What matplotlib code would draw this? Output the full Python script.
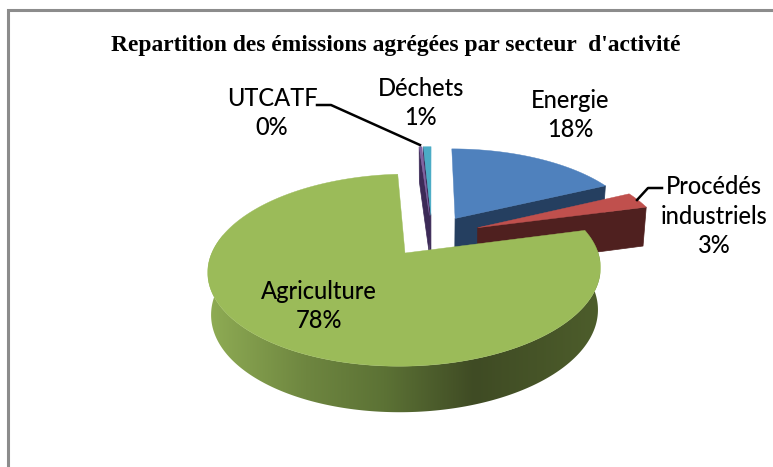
import numpy as np
import matplotlib
matplotlib.use('Agg')
import matplotlib.pyplot as plt
from matplotlib.colors import LinearSegmentedColormap
from matplotlib.patches import Polygon

# data
sectors = ['Energie', 'Procédés\nindustriels', 'Agriculture', 'UTCATF', 'Déchets']
shares = [17.9, 3.0, 78.0, 0.3, 0.8]
top_colors = ['#4F81BD', '#C0504D', '#9BBB59', '#8064A2', '#4BACC6']
side_colors = ['#253F60', '#4F201F', '#4A5A2A', '#3C2A57', '#215968']
title = "Repartition des émissions agrégées par secteur  d'activité"

# where each label sits, in pixels
label_pos = [(570, 115), (714, 216), (319, 306), (272, 113), (421, 103)]
explode = [0.24, 0.265, 0.24, 0.24, 0.24]

# 3d view of the pie
CX, CY = 432, 235.5
RX, RY = 186.7, 86.9
PERSP = 0.172


def project(u, v):
    w = 1 + PERSP * v
    return CX + RX * u / w, CY - RY * v / w


def lower(u, v):
    x, y = project(u, v)
    return CX + (x - CX) * 0.985, y + 40.5 - 4.6 * v


def edge(p, fn):
    pts = [fn(u, v) for u, v in p]
    return [a[0] for a in pts], [a[1] for a in pts]


fig = plt.figure(figsize=(7.73, 4.67), dpi=100)
ax = fig.add_axes([0, 0, 1, 1])
ax.axis('off')

# chart area border
ax.plot([7.5, 7.5, 773], [467, 9.5, 9.5], color='#8c8c8c', lw=2.2, solid_joinstyle='miter')

rim_cmap = LinearSegmentedColormap.from_list(
    'rim', [(0, '#8FAC54'), (0.25, '#6E8640'), (0.45, '#5C7235'), (0.68, '#3F4B24'), (1, '#4D5D2B')])

total = sum(shares)
bounds = np.cumsum([0] + shares) / total * 360
slices = []
for i in range(len(shares)):
    a0, a1 = np.radians(bounds[i]), np.radians(bounds[i + 1])
    mid = (a0 + a1) / 2
    u0, v0 = explode[i] * np.sin(mid), explode[i] * np.cos(mid)
    t = np.linspace(a0, a1, max(4, int(np.degrees(a1 - a0) * 2)))
    slices.append((i, t, u0, v0))

# far slices first, agriculture last
for i, t, u0, v0 in [slices[4], slices[3], slices[0], slices[1], slices[2]]:
    apex = (u0, v0)
    rim = [(u0 + np.sin(a), v0 + np.cos(a)) for a in t]

    if i in (0, 1):
        # cut face at the end of the slice
        p = [apex, rim[-1]]
        xt, yt = edge(p, project)
        xb, yb = edge(p, lower)
        ax.fill(xt + xb[::-1], yt + yb[::-1], color=side_colors[i], lw=0.5)
    if i in (3, 4):
        p = [apex, rim[0]]
        xt, yt = edge(p, project)
        xb, yb = edge(p, lower)
        ax.fill(xt + xb[::-1], yt + yb[::-1], color=side_colors[3], lw=0.5)
    if i == 2:
        # outer wall, a horizontal gradient clipped to the wall outline
        front = [p for p, a in zip(rim, t) if np.cos(a) <= 0.2]
        xt, yt = edge(front, project)
        xb, yb = edge(front, lower)
        wall = Polygon(list(zip(xt + xb[::-1], yt + yb[::-1])), closed=True,
                       transform=ax.transData, facecolor='none', edgecolor='none')
        ax.add_patch(wall)
        grad = np.linspace(0, 1, 256).reshape(1, -1)
        img = ax.imshow(grad, cmap=rim_cmap, extent=(208, 600, 430, 230), aspect='auto', zorder=4)
        img.set_clip_path(wall)

    xt, yt = edge([apex] + rim, project)
    ax.fill(xt, yt, color=top_colors[i], lw=0.3, zorder=5 if i == 2 else 1)

ax.set_xlim(0, 773)
ax.set_ylim(467, 0)

# leader lines
ax.plot([317, 331, 420], [105, 105, 145], color='black', lw=1.8, zorder=6)
ax.plot([662, 648, 637], [188, 188, 200], color='black', lw=1.8, zorder=6)

font = ['Lato', 'DejaVu Sans']
for name, share, (x, y) in zip(sectors, shares, label_pos):
    ax.text(x, y, f'{name}\n{share:.0f}%', ha='center', va='center', fontsize=17,
            family=font, linespacing=1.34, color='black', weight='medium', zorder=7)

ax.text(396, 46, title, ha='center', va='center', fontsize=16.9,
        family='Liberation Serif', weight='bold', color='black', zorder=7)

fig.savefig('out.png', dpi=100)
